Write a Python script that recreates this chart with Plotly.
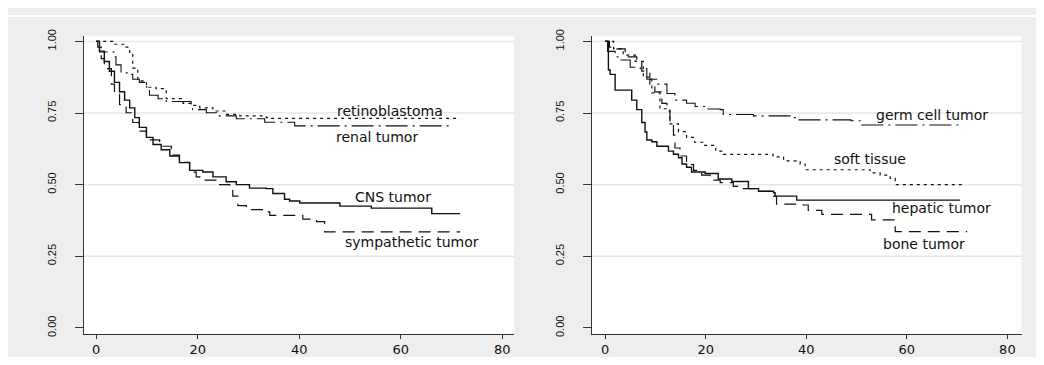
import plotly.graph_objects as go

# ---------------- data ----------------
X_TICKS = [0, 20, 40, 60, 80]
Y_TICKS = [0.0, 0.25, 0.5, 0.75, 1.0]
Y_TICK_TEXT = ["0.00", "0.25", "0.50", "0.75", "1.00"]
GRID_Y = [0.25, 0.5, 0.75, 1.0]

# left panel
cns_t = [0, 0.65, 1.6, 2.6, 3.6, 4.6, 5.6, 6.6, 7.6, 8.5, 9.9, 11.2, 12.8, 14.5, 16.4, 18.4,
         21.0, 23.0, 25.6, 27.6, 30.2, 33.5, 34.8, 37.1, 38.1, 40.1, 48.0, 54.2, 66.1, 71.7]
cns_s = [1.0, 0.966, 0.93, 0.896, 0.857, 0.824, 0.795, 0.768, 0.734, 0.70, 0.665, 0.64,
         0.622, 0.60, 0.577, 0.55, 0.544, 0.527, 0.51, 0.50, 0.488, 0.486, 0.469, 0.449,
         0.443, 0.436, 0.425, 0.418, 0.399, 0.399]

symp_t = [0, 0.3, 1.0, 1.6, 3.0, 3.6, 4.6, 5.9, 7.2, 8.5, 9.9, 10.5, 12.5, 14.8, 16.4, 18.4,
          19.7, 20.4, 24.3, 26.3, 26.9, 27.9, 29.6, 33.0, 34.2, 40.7, 43.4, 45.0, 71.7]
symp_s = [1.0, 0.98, 0.94, 0.905, 0.851, 0.815, 0.779, 0.751, 0.717, 0.687, 0.667, 0.656,
          0.634, 0.603, 0.578, 0.544, 0.527, 0.516, 0.50, 0.483, 0.46, 0.427, 0.413, 0.405,
          0.393, 0.38, 0.371, 0.335, 0.335]

retino_t = [0, 1.6, 3.5, 5.6, 6.6, 7.2, 8.2, 9.9, 11.8, 13.8, 17.1, 19.0, 20.4, 23.0, 25.6,
            28.3, 33.5, 34.5, 71.7]
retino_s = [1.0, 1.0, 0.99, 0.98, 0.957, 0.907, 0.862, 0.84, 0.835, 0.80, 0.784, 0.777,
            0.768, 0.757, 0.745, 0.74, 0.734, 0.731, 0.731]

renal_t = [0, 0.65, 3.6, 3.9, 4.9, 6.2, 7.2, 8.5, 9.9, 10.5, 12.2, 13.8, 18.7, 19.0, 21.7,
           23.7, 27.6, 33.2, 39.1, 70.3]
renal_s = [1.0, 0.963, 0.946, 0.918, 0.89, 0.885, 0.868, 0.857, 0.84, 0.812, 0.80, 0.79,
           0.779, 0.762, 0.751, 0.74, 0.73, 0.718, 0.705, 0.705]

# right panel
hep_t = [0, 0.66, 1.0, 2.0, 4.3, 5.3, 6.3, 7.3, 7.95, 8.3, 9.3, 10.3, 12.6, 13.6, 14.6, 15.3,
         16.2, 17.2, 19.9, 22.5, 25.2, 28.5, 30.5, 33.5, 33.8, 38.1, 70.6]
hep_s = [1.0, 0.90, 0.885, 0.83, 0.83, 0.795, 0.762, 0.717, 0.684, 0.656, 0.65, 0.634, 0.617,
         0.606, 0.594, 0.572, 0.561, 0.544, 0.539, 0.52, 0.511, 0.486, 0.477, 0.472, 0.46,
         0.446, 0.446]

bone_t = [0, 0.86, 2.3, 4.0, 6.3, 7.3, 8.9, 9.9, 11.3, 12.3, 12.9, 13.6, 13.9, 14.9, 16.2,
          17.6, 19.2, 20.9, 22.9, 25.5, 27.2, 30.5, 33.5, 34.1, 39.4, 40.4, 43.1, 53.0, 57.7,
          72.0]
bone_s = [1.0, 0.98, 0.974, 0.946, 0.93, 0.896, 0.851, 0.824, 0.784, 0.757, 0.717, 0.673,
          0.628, 0.60, 0.57, 0.55, 0.533, 0.516, 0.507, 0.494, 0.486, 0.477, 0.46, 0.432,
          0.429, 0.41, 0.396, 0.377, 0.336, 0.336]

soft_t = [0, 1.7, 3.6, 6.0, 7.6, 9.3, 10.9, 12.9, 14.6, 16.2, 17.8, 19.5, 22.0, 23.5, 32.8,
          33.4, 35.5, 38.8, 39.8, 52.0, 52.7, 54.7, 56.7, 57.7, 71.0]
soft_s = [1.0, 0.974, 0.952, 0.93, 0.875, 0.82, 0.765, 0.712, 0.685, 0.665, 0.648, 0.637,
          0.617, 0.606, 0.606, 0.597, 0.583, 0.572, 0.552, 0.552, 0.541, 0.533, 0.522, 0.50,
          0.50]

germ_t = [0, 0.5, 2.0, 3.0, 5.0, 7.0, 8.3, 10.3, 12.3, 13.9, 16.2, 17.9, 19.9, 22.9, 23.5,
          29.5, 37.4, 38.4, 48.9, 51.0, 71.0]
germ_s = [1.0, 0.965, 0.946, 0.935, 0.91, 0.905, 0.868, 0.851, 0.818, 0.795, 0.784, 0.773,
          0.764, 0.762, 0.745, 0.74, 0.734, 0.726, 0.723, 0.708, 0.708]

# labels: (text, x, y, panel)
LABELS = [
    ("retinoblastoma", 57.9, 0.758, 1),
    ("renal tumor", 55.3, 0.667, 1),
    ("CNS tumor", 58.5, 0.456, 1),
    ("sympathetic tumor", 62.2, 0.301, 1),
    ("germ cell tumor", 65.1, 0.744, 2),
    ("soft tissue", 52.6, 0.588, 2),
    ("hepatic tumor", 66.9, 0.418, 2),
    ("bone tumor", 63.5, 0.294, 2),
]

# ---------------- styles ----------------
# the page adds an 8px body margin around the figure
W, H = 1028, 349
OFF = 8
INK = "#111111"
SOLID = None
DASHED = "12px,7px"
DOTTED = "3px,4px"
DASHDOT = "22px,5px,2px,5px"

series = [
    (cns_t, cns_s, SOLID, 1, 1.4),
    (symp_t, symp_s, DASHED, 1, 1.2),
    (retino_t, retino_s, DOTTED, 1, 1.2),
    (renal_t, renal_s, DASHDOT, 1, 1.1),
    (hep_t, hep_s, SOLID, 2, 1.4),
    (bone_t, bone_s, DASHED, 2, 1.2),
    (soft_t, soft_s, DOTTED, 2, 1.2),
    (germ_t, germ_s, DASHDOT, 2, 1.1),
]

fig = go.Figure()
for t, s, dash, panel, w in series:
    line = dict(color=INK, width=w, shape="hv")
    if dash:
        line["dash"] = dash
    fig.add_trace(go.Scatter(
        x=t, y=s, mode="lines", line=line, showlegend=False, hoverinfo="skip",
        xaxis="x" if panel == 1 else "x2", yaxis="y" if panel == 1 else "y2"))

for text, x, y, panel in LABELS:
    fig.add_annotation(text=text, x=x, y=y, xref="x" if panel == 1 else "x2",
                       yref="y" if panel == 1 else "y2", showarrow=False,
                       font=dict(family="DejaVu Sans", size=14, color=INK),
                       xanchor="center", yanchor="middle")

shapes = [
    dict(type="rect", xref="paper", yref="paper", x0=0, x1=1, y0=(H - 2) / H, y1=1,
         fillcolor="white", line=dict(width=0), layer="below"),
]
for xr, yr in (("x domain", "y"), ("x2 domain", "y2")):
    for gy in GRID_Y:
        shapes.append(dict(type="line", xref=xr, yref=yr, x0=0, x1=1, y0=gy, y1=gy,
                           line=dict(color="#e6e6e6", width=1.5), layer="below"))
fig.update_layout(shapes=shapes)

xaxis_common = dict(
    tickvals=X_TICKS, ticktext=[str(v) for v in X_TICKS], ticks="outside", ticklen=4,
    tickwidth=1, tickcolor="#333333", showline=True, linecolor="#333333", linewidth=1,
    showgrid=False, zeroline=False,
    tickfont=dict(family="DejaVu Sans", size=13, color=INK))
yaxis_common = dict(
    tickvals=Y_TICKS, ticktext=Y_TICK_TEXT, ticks="outside", ticklen=8, tickwidth=1,
    tickcolor="#333333", showline=True, linecolor="#333333", linewidth=1,
    showgrid=False, zeroline=False, range=[-0.0201, 1.0184], tickangle=-90,
    tickfont=dict(family="Liberation Sans", size=11, color=INK), ticklabelstandoff=15)


def px_x(p):
    return (p - OFF) / W


def px_y(p):
    return (H - (p - OFF)) / H


ydom = [px_y(340), px_y(30)]
fig.update_layout(
    width=W, height=H, margin=dict(l=0, r=0, t=0, b=0),
    paper_bgcolor="#eeeeee", plot_bgcolor="white",
    xaxis=dict(xaxis_common, domain=[px_x(84), px_x(514)], range=[-2.4, 82.3], anchor="y"),
    yaxis=dict(yaxis_common, domain=ydom, anchor="x"),
    xaxis2=dict(xaxis_common, domain=[px_x(592), px_x(1021.7)], range=[-2.6, 82.85],
                anchor="y2"),
    yaxis2=dict(yaxis_common, domain=ydom, anchor="x2"),
)

fig.write_html("out.html")
